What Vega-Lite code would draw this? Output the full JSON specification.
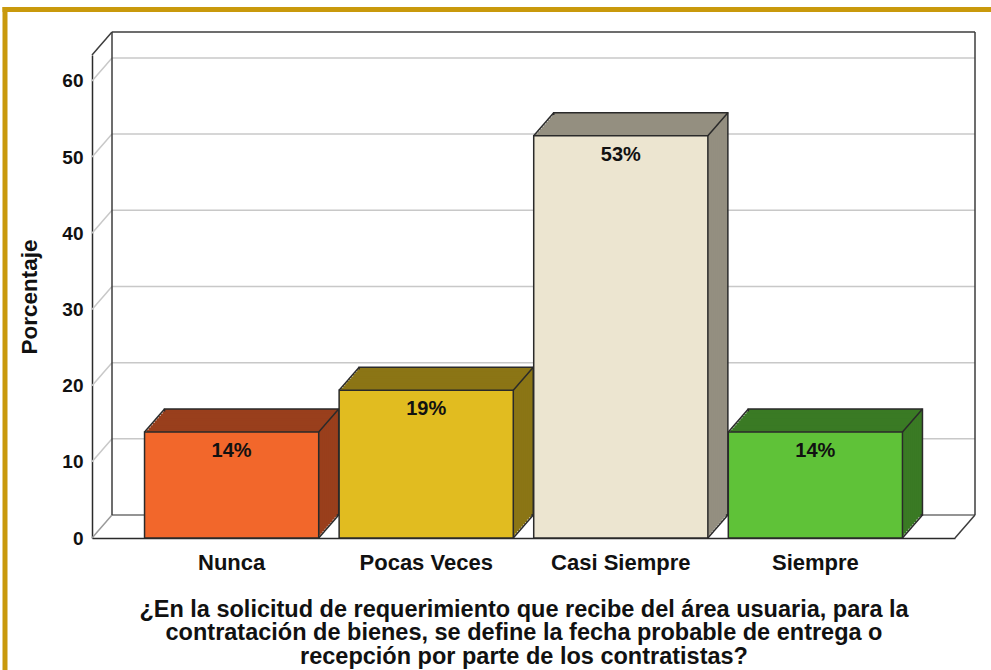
{
  "$schema": "https://vega.github.io/schema/vega-lite/v6.json",
  "width": 863,
  "height": 483,
  "autosize": "none",
  "padding": {"left": 92, "top": 55, "right": 36, "bottom": 132},
  "background": "white",
  "config": {"view": {"stroke": null}, "font": "Liberation Sans"},
  "datasets": {
    "barras": [
      {"respuesta": "Nunca", "porcentaje": 13.9, "etiqueta": "14%"},
      {"respuesta": "Pocas Veces", "porcentaje": 19.4, "etiqueta": "19%"},
      {"respuesta": "Casi Siempre", "porcentaje": 52.8, "etiqueta": "53%"},
      {"respuesta": "Siempre", "porcentaje": 13.9, "etiqueta": "14%"}
    ],
    "marcas": [{"t": 10}, {"t": 20}, {"t": 30}, {"t": 40}, {"t": 50}, {"t": 60}],
    "uno": [{"k": 1}]
  },
  "data": {"name": "barras"},
  "layer": [
    {
      "data": {"name": "uno"},
      "mark": {"type": "rule", "color": "#c9990c", "strokeWidth": 5, "xOffset": -87, "x2Offset": -87, "yOffset": -48, "y2Offset": 200},
      "encoding": {"x": {"value": 0}, "x2": {"value": 0}, "y": {"datum": 63.4, "type": "quantitative"}, "y2": {"datum": 0}}
    },
    {
      "data": {"name": "uno"},
      "mark": {"type": "rule", "color": "#c9990c", "strokeWidth": 5, "xOffset": -89.5, "x2Offset": 100, "yOffset": -45.5, "y2Offset": -45.5},
      "encoding": {"x": {"value": 0}, "x2": {"value": "width"}, "y": {"datum": 63.4, "type": "quantitative"}, "y2": {"datum": 63.4}}
    },
    {
      "data": {"name": "marcas"},
      "mark": {"type": "rule", "color": "#c8c8c8", "strokeWidth": 1.5, "xOffset": 20, "x2Offset": 20, "yOffset": -23, "y2Offset": -23},
      "encoding": {"x": {"value": 0}, "x2": {"value": "width"}, "y": {"field": "t", "type": "quantitative"}, "y2": {"field": "t"}}
    },
    {
      "data": {"name": "marcas"},
      "mark": {"type": "rule", "color": "#c8c8c8", "strokeWidth": 1.5, "x2Offset": 20, "y2Offset": -23},
      "encoding": {"x": {"value": 0}, "x2": {"value": 0}, "y": {"field": "t", "type": "quantitative"}, "y2": {"field": "t"}}
    },
    {
      "data": {"name": "uno"},
      "mark": {"type": "rule", "color": "#9a9a9a", "strokeWidth": 1.5, "x2Offset": 20, "y2Offset": -23},
      "encoding": {"x": {"value": 0}, "x2": {"value": 0}, "y": {"datum": 0, "type": "quantitative"}, "y2": {"datum": 0}}
    },
    {
      "data": {"name": "uno"},
      "mark": {"type": "rule", "color": "#707070", "strokeWidth": 1.5, "xOffset": 20, "x2Offset": 20, "yOffset": -23, "y2Offset": -23},
      "encoding": {"x": {"value": 0}, "x2": {"value": "width"}, "y": {"datum": 0, "type": "quantitative"}, "y2": {"datum": 0}}
    },
    {
      "data": {"name": "uno"},
      "mark": {"type": "rule", "color": "#3c3c3c", "strokeWidth": 1.5, "xOffset": 20, "x2Offset": 20, "yOffset": -23, "y2Offset": -23},
      "encoding": {"x": {"value": 0}, "x2": {"value": "width"}, "y": {"datum": 63.4, "type": "quantitative"}, "y2": {"datum": 63.4}}
    },
    {
      "data": {"name": "uno"},
      "mark": {"type": "rule", "color": "#3c3c3c", "strokeWidth": 1.5, "xOffset": 20, "x2Offset": 20, "yOffset": -23, "y2Offset": -23},
      "encoding": {"x": {"value": 0}, "x2": {"value": 0}, "y": {"datum": 0, "type": "quantitative"}, "y2": {"datum": 63.4}}
    },
    {
      "data": {"name": "uno"},
      "mark": {"type": "rule", "color": "#3c3c3c", "strokeWidth": 1.5, "xOffset": 20, "x2Offset": 20, "yOffset": -23, "y2Offset": -23},
      "encoding": {"x": {"value": "width"}, "x2": {"value": "width"}, "y": {"datum": 0, "type": "quantitative"}, "y2": {"datum": 63.4}}
    },
    {
      "data": {"name": "uno"},
      "mark": {"type": "rule", "color": "#3c3c3c", "strokeWidth": 1.5, "x2Offset": 20, "y2Offset": -23},
      "encoding": {"x": {"value": 0}, "x2": {"value": 0}, "y": {"datum": 63.4, "type": "quantitative"}, "y2": {"datum": 63.4}}
    },
    {
      "data": {"name": "uno"},
      "mark": {"type": "rule", "color": "#3c3c3c", "strokeWidth": 1.5, "x2Offset": 20, "y2Offset": -23},
      "encoding": {"x": {"value": "width"}, "x2": {"value": "width"}, "y": {"datum": 0, "type": "quantitative"}, "y2": {"datum": 0}}
    },
    {
      "mark": {"type": "bar", "xOffset": 20, "yOffset": -23, "y2Offset": -23, "stroke": "#2a2a2a", "strokeWidth": 1.5},
      "encoding": {
        "x": {"field": "respuesta", "type": "nominal", "sort": null},
        "y": {"field": "porcentaje", "type": "quantitative"},
        "fill": {"field": "respuesta", "type": "nominal", "legend": null, "scale": {"domain": ["Nunca", "Pocas Veces", "Casi Siempre", "Siempre"], "range": ["#993f1c", "#8b7515", "#948f80", "#3a7a24"]}}
      }
    },
    {"mark": {"type": "bar", "xOffset": 18, "yOffset": -20.7, "y2Offset": -20.7}, "encoding": {"x": {"field": "respuesta", "type": "nominal", "sort": null}, "y": {"field": "porcentaje", "type": "quantitative"}, "fill": {"field": "respuesta", "type": "nominal", "legend": null}}},
    {"mark": {"type": "bar", "xOffset": 16, "yOffset": -18.4, "y2Offset": -18.4}, "encoding": {"x": {"field": "respuesta", "type": "nominal", "sort": null}, "y": {"field": "porcentaje", "type": "quantitative"}, "fill": {"field": "respuesta", "type": "nominal", "legend": null}}},
    {"mark": {"type": "bar", "xOffset": 14, "yOffset": -16.1, "y2Offset": -16.1}, "encoding": {"x": {"field": "respuesta", "type": "nominal", "sort": null}, "y": {"field": "porcentaje", "type": "quantitative"}, "fill": {"field": "respuesta", "type": "nominal", "legend": null}}},
    {"mark": {"type": "bar", "xOffset": 12, "yOffset": -13.8, "y2Offset": -13.8}, "encoding": {"x": {"field": "respuesta", "type": "nominal", "sort": null}, "y": {"field": "porcentaje", "type": "quantitative"}, "fill": {"field": "respuesta", "type": "nominal", "legend": null}}},
    {"mark": {"type": "bar", "xOffset": 10, "yOffset": -11.5, "y2Offset": -11.5}, "encoding": {"x": {"field": "respuesta", "type": "nominal", "sort": null}, "y": {"field": "porcentaje", "type": "quantitative"}, "fill": {"field": "respuesta", "type": "nominal", "legend": null}}},
    {"mark": {"type": "bar", "xOffset": 8, "yOffset": -9.2, "y2Offset": -9.2}, "encoding": {"x": {"field": "respuesta", "type": "nominal", "sort": null}, "y": {"field": "porcentaje", "type": "quantitative"}, "fill": {"field": "respuesta", "type": "nominal", "legend": null}}},
    {"mark": {"type": "bar", "xOffset": 6, "yOffset": -6.9, "y2Offset": -6.9}, "encoding": {"x": {"field": "respuesta", "type": "nominal", "sort": null}, "y": {"field": "porcentaje", "type": "quantitative"}, "fill": {"field": "respuesta", "type": "nominal", "legend": null}}},
    {"mark": {"type": "bar", "xOffset": 4, "yOffset": -4.6, "y2Offset": -4.6}, "encoding": {"x": {"field": "respuesta", "type": "nominal", "sort": null}, "y": {"field": "porcentaje", "type": "quantitative"}, "fill": {"field": "respuesta", "type": "nominal", "legend": null}}},
    {"mark": {"type": "bar", "xOffset": 2, "yOffset": -2.3, "y2Offset": -2.3}, "encoding": {"x": {"field": "respuesta", "type": "nominal", "sort": null}, "y": {"field": "porcentaje", "type": "quantitative"}, "fill": {"field": "respuesta", "type": "nominal", "legend": null}}},
    {
      "mark": {"type": "rule", "color": "#2a2a2a", "strokeWidth": 1.5, "x2Offset": 20, "y2Offset": -23},
      "encoding": {
        "x": {"field": "respuesta", "type": "nominal", "sort": null, "bandPosition": 1},
        "x2": {"field": "respuesta", "bandPosition": 1},
        "y": {"field": "porcentaje", "type": "quantitative"},
        "y2": {"field": "porcentaje"}
      }
    },
    {
      "mark": {"type": "rule", "color": "#2a2a2a", "strokeWidth": 1.5, "x2Offset": 20, "y2Offset": -23},
      "encoding": {
        "x": {"field": "respuesta", "type": "nominal", "sort": null, "bandPosition": 0},
        "x2": {"field": "respuesta", "bandPosition": 0},
        "y": {"field": "porcentaje", "type": "quantitative"},
        "y2": {"field": "porcentaje"}
      }
    },
    {
      "mark": {"type": "rule", "color": "#2a2a2a", "strokeWidth": 1.5, "x2Offset": 20, "y2Offset": -23},
      "encoding": {
        "x": {"field": "respuesta", "type": "nominal", "sort": null, "bandPosition": 1},
        "x2": {"field": "respuesta", "bandPosition": 1},
        "y": {"datum": 0, "type": "quantitative"},
        "y2": {"datum": 0}
      }
    },
    {
      "mark": {"type": "bar", "stroke": "#2a2a2a", "strokeWidth": 1.5},
      "encoding": {
        "x": {
          "field": "respuesta", "type": "nominal", "sort": null,
          "scale": {"domain": ["Nunca", "Pocas Veces", "Casi Siempre", "Siempre"], "paddingInner": 0.105, "paddingOuter": 0.27},
          "axis": {
            "domainColor": "#2a2a2a", "domainWidth": 1.5, "ticks": false, "grid": false,
            "labelAngle": 0, "labelAlign": "center", "labelBaseline": "top", "labelFont": "Liberation Sans", "labelFontSize": 22, "labelFontWeight": "bold", "labelColor": "#111111", "labelPadding": 14,
            "title": ["¿En la solicitud de requerimiento que recibe del área usuaria, para la", "contratación de bienes, se define la fecha probable de entrega o", "recepción por parte de los contratistas?"],
            "titleFont": "Liberation Sans", "titleFontSize": 23.5, "titleFontWeight": "bold", "titleColor": "#111111", "titleLineHeight": 23.5, "titlePadding": 24
          }
        },
        "y": {
          "field": "porcentaje", "type": "quantitative",
          "scale": {"domain": [0, 63.4], "nice": false, "zero": true},
          "axis": {
            "values": [0, 10, 20, 30, 40, 50, 60], "domainColor": "#2a2a2a", "domainWidth": 1.5, "ticks": false, "grid": false,
            "labelFont": "Liberation Sans", "labelFontSize": 19, "labelFontWeight": "bold", "labelColor": "#111111", "labelPadding": 9,
            "title": "Porcentaje", "titleFont": "Liberation Sans", "titleFontSize": 22.5, "titleFontWeight": "bold", "titleColor": "#111111", "titlePadding": 20
          }
        },
        "color": {"field": "respuesta", "type": "nominal", "legend": null, "scale": {"domain": ["Nunca", "Pocas Veces", "Casi Siempre", "Siempre"], "range": ["#f2672b", "#e1bc20", "#ece5d0", "#5fc238"]}}
      }
    },
    {
      "mark": {"type": "text", "baseline": "top", "dy": 9, "font": "Liberation Sans", "fontSize": 20, "fontWeight": "bold", "color": "#111111"},
      "encoding": {
        "x": {"field": "respuesta", "type": "nominal", "sort": null},
        "y": {"field": "porcentaje", "type": "quantitative"},
        "text": {"field": "etiqueta"}
      }
    }
  ]
}
